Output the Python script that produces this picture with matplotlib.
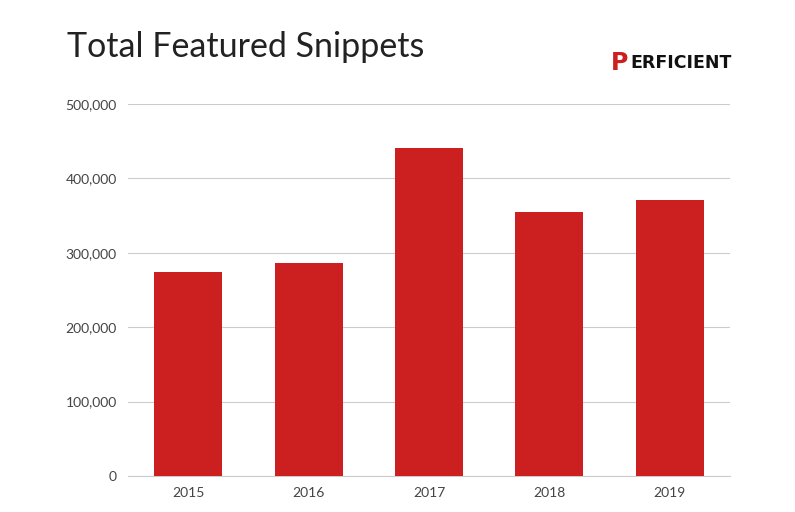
import matplotlib
matplotlib.use("Agg")
import matplotlib.pyplot as plt

years = ["2015", "2016", "2017", "2018", "2019"]
values = [274000, 286000, 441000, 355000, 371000]
yticks = [0, 100000, 200000, 300000, 400000, 500000]
ytick_labels = ["0", "100,000", "200,000", "300,000", "400,000", "500,000"]

fig = plt.figure(figsize=(7.95, 5.12), dpi=100)
ax = fig.add_axes([128/795, 1-476/512, (730-128)/795, (476-104)/512])
x = range(len(years))
ax.bar(x, values, width=0.565, color="#cc1f20", zorder=3)
ax.set_xlim(-0.5, 4.5)
ax.set_ylim(0, 500000)
ax.set_yticks(yticks)
ax.set_yticklabels(ytick_labels)
ax.set_xticks(list(x))
ax.set_xticklabels(years)
ax.grid(axis="y", color="#cccccc", linewidth=0.8, zorder=0)
for s in ["top", "right", "left"]:
    ax.spines[s].set_visible(False)
ax.spines["bottom"].set_color("#cccccc")
ax.tick_params(length=0, labelsize=10, colors="#444444", labelfontfamily="Lato")
ax.tick_params(axis="y", pad=8)
ax.tick_params(axis="x", pad=8)
fig.text(67/795, 1-47/512, "Total Featured Snippets", fontsize=24.5, family="Lato",
         color="#222222", va="center", fontweight="normal")
fig.text(611/795, 1-63/512, "P", fontsize=17, color="#cc1f20", family="DejaVu Sans",
         fontweight="bold", va="center")
fig.text(630/795, 1-63/512, "ERFICIENT", fontsize=12.5, color="#111111", family="Liberation Sans Narrow",
         fontweight="bold", va="center")
fig.savefig("out.png", dpi=100)
